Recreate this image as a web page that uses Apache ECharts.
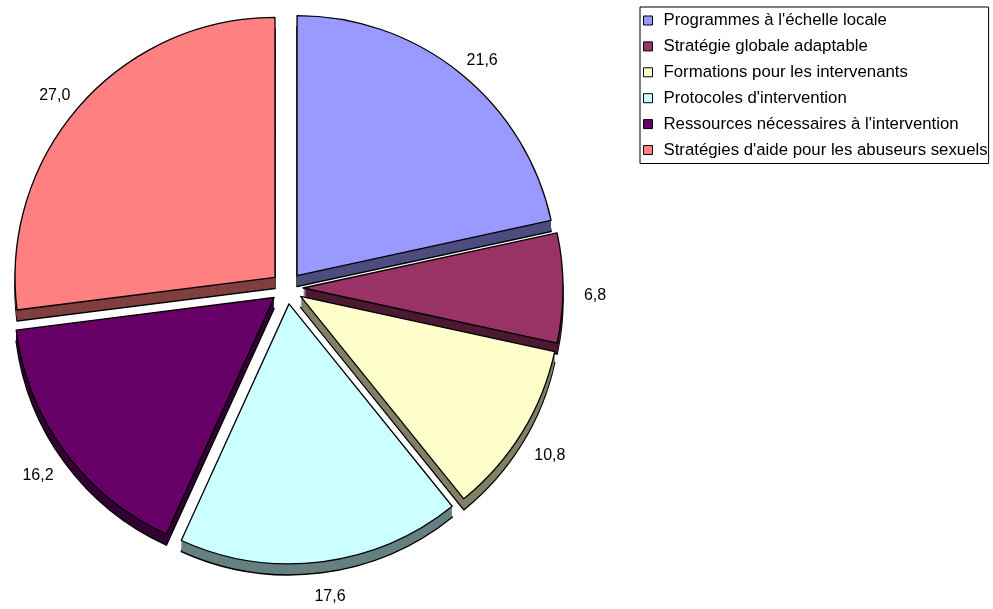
<!DOCTYPE html>
<html><head><meta charset="utf-8">
<script src="https://cdn.jsdelivr.net/npm/echarts@6/dist/echarts.min.js"></script>
<style>html,body{margin:0;padding:0;background:#fff}#c{width:993px;height:609px}</style>
</head><body><div id="c"></div>
<script>
var categories = ["Programmes à l'échelle locale","Stratégie globale adaptable","Formations pour les intervenants","Protocoles d'intervention","Ressources nécessaires à l'intervention","Stratégies d'aide pour les abuseurs sexuels"];
var values = [21.6, 6.8, 10.8, 17.6, 16.2, 27.0];
var colors = ['#9999FF','#993366','#FFFFCC','#CCFFFF','#660066','#FF8080'];

var CX = 287, CY = 288, R = 260, EXPLODE = 16, DEPTH = 11;
var FONT = 'Liberation Sans, Arial, sans-serif';
var total = values.reduce(function(a,b){return a+b;},0);
function darken(hex){
  var n=parseInt(hex.slice(1),16);
  var r=Math.round(((n>>16)&255)*0.5), g=Math.round(((n>>8)&255)*0.5), b=Math.round((n&255)*0.5);
  return 'rgb('+r+','+g+','+b+')';
}
var slices=[]; var cum=0;
values.forEach(function(v,i){
  var mid=(cum+v/2)/total*360*Math.PI/180;
  slices.push({i:i,v:v,start:90-cum/total*360,dx:EXPLODE*Math.sin(mid),dy:-EXPLODE*Math.cos(mid)});
  cum+=v;
});
function fmt(v){return v.toFixed(1).replace('.',',');}
var series=[];
slices.forEach(function(s){
  series.push({
    type:'pie', z:5, radius:R, center:[CX+s.dx, CY+s.dy], startAngle:s.start, clockwise:true,
    avoidLabelOverlap:false, animation:false, emphasis:{disabled:true},
    itemStyle:{borderColor:'#000',borderWidth:1.3},
    label:{show:true,position:'outside',alignTo:'none',formatter:function(p){return fmt(p.value);},fontSize:16,color:'#000',fontFamily:FONT},
    labelLine:{show:false,length:27,length2:0},
    labelLayout:{align:'center',verticalAlign:'middle',dy:8},
    data:[
      {name:categories[s.i],value:s.v,itemStyle:{color:colors[s.i]}},
      {name:'',value:total-s.v,itemStyle:{color:'rgba(0,0,0,0)',borderWidth:0},label:{show:false}}
    ]
  });
});
for(var k=DEPTH;k>=1;k--){
  slices.forEach(function(s){
    series.push({
      type:'pie', z:2, silent:true, radius:R, center:[CX+s.dx, CY+s.dy+k], startAngle:s.start, clockwise:true,
      animation:false, emphasis:{disabled:true}, label:{show:false}, labelLine:{show:false},
      itemStyle:{borderColor:'#000',borderWidth:k===DEPTH?1.5:0},
      data:[
        {name:'',value:s.v,itemStyle:{color:darken(colors[s.i])}},
        {name:'',value:total-s.v,itemStyle:{color:'rgba(0,0,0,0)',borderWidth:0}}
      ]
    });
  });
}
var chart=echarts.init(document.getElementById('c'));
chart.setOption({
  backgroundColor:'#fff',
  animation:false,
  legend:{
    orient:'vertical', left:640, top:7, data:categories,
    icon:'rect', itemWidth:9, itemHeight:9, itemGap:8.9,
    itemStyle:{borderColor:'#000',borderWidth:1},
    textStyle:{fontSize:16.8,color:'#000',fontFamily:FONT,padding:[0,0,0,6]},
    borderColor:'#000', borderWidth:1, padding:[5,1,5,3], backgroundColor:'#fff',
    selectedMode:false
  },
  series:series
});
</script></body></html>
